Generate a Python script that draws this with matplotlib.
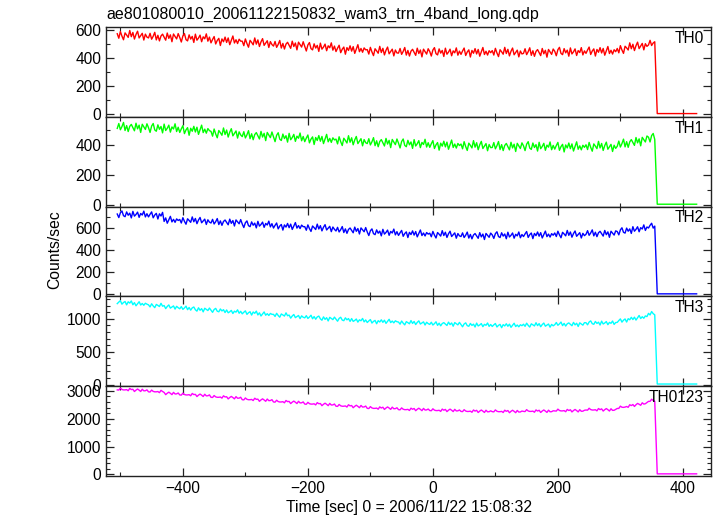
# Import necessary libraries
import numpy as np
import matplotlib
matplotlib.use("Agg")
import matplotlib.pyplot as plt
from matplotlib.ticker import MultipleLocator

plt.rcParams['font.family'] = ['Liberation Sans', 'DejaVu Sans']

# Light curve samples every 2.5 s from -505 s to 355 s
start_time = -505
step = 2.5

th0 = [572, 540, 588, 555, 529, 578, 563, 546, 595, 551, 581, 534, 567, 590, 542, 558, 575, 527, 569, 548,
       542, 575, 533, 554, 582, 528, 561, 521, 556, 569, 547, 526, 577, 539, 564, 515, 570, 552, 535, 573,
       545, 513, 556, 573, 530, 521, 564, 534, 553, 510, 569, 526, 541, 562, 515, 550, 536, 571, 519, 548,
       507, 531, 552, 499, 524, 539, 488, 535, 515, 548, 510, 542, 494, 526, 556, 506, 529, 502, 533, 519,
       519, 487, 535, 502, 476, 525, 510, 493, 542, 498, 528, 481, 514, 537, 489, 505, 522, 474, 516, 495,
       484, 517, 475, 496, 524, 470, 503, 463, 498, 511, 489, 468, 519, 481, 506, 457, 512, 494, 477, 515,
       481, 449, 492, 509, 466, 457, 500, 470, 489, 446, 505, 462, 477, 498, 451, 486, 472, 507, 455, 484,
       445, 469, 490, 437, 462, 477, 426, 473, 453, 486, 448, 480, 432, 464, 494, 444, 467, 440, 471, 457,
       459, 427, 475, 442, 416, 465, 450, 433, 482, 438, 468, 421, 454, 477, 429, 445, 462, 414, 456, 435,
       434, 467, 425, 446, 474, 420, 453, 413, 448, 461, 439, 418, 469, 431, 456, 407, 462, 444, 427, 465,
       445, 413, 456, 473, 430, 421, 464, 434, 453, 410, 469, 426, 441, 462, 415, 450, 436, 471, 419, 448,
       425, 449, 470, 417, 442, 457, 406, 453, 433, 466, 428, 460, 412, 444, 474, 424, 447, 420, 451, 437,
       452, 420, 468, 435, 409, 458, 443, 426, 475, 431, 461, 414, 447, 470, 422, 438, 455, 407, 449, 428,
       432, 465, 423, 444, 472, 418, 451, 411, 446, 459, 437, 416, 467, 429, 454, 405, 460, 442, 425, 463,
       447, 415, 458, 475, 432, 423, 466, 436, 455, 412, 471, 428, 443, 464, 417, 452, 438, 473, 421, 450,
       432, 456, 477, 424, 449, 464, 413, 460, 440, 473, 435, 467, 419, 451, 481, 431, 454, 427, 458, 444,
       467, 436, 487, 456, 432, 483, 471, 456, 507, 465, 497, 452, 487, 512, 466, 484, 503, 457, 501, 482,
       492, 525, 488, 506, 515]

th1 = [512, 545, 503, 524, 552, 498, 531, 491, 526, 539, 517, 496, 547, 509, 534, 485, 540, 522, 505, 543,
       517, 485, 528, 545, 502, 493, 536, 506, 525, 482, 541, 498, 513, 534, 487, 522, 508, 543, 491, 520,
       485, 509, 530, 477, 502, 517, 466, 513, 493, 526, 488, 520, 472, 504, 534, 484, 507, 480, 511, 497,
       492, 460, 508, 475, 449, 498, 483, 466, 515, 471, 501, 454, 487, 510, 462, 478, 495, 447, 489, 468,
       457, 490, 448, 469, 497, 443, 476, 436, 471, 484, 462, 441, 492, 454, 479, 430, 485, 467, 450, 488,
       455, 423, 466, 483, 440, 431, 474, 444, 463, 420, 479, 436, 451, 472, 425, 460, 446, 481, 429, 458,
       423, 447, 468, 415, 440, 455, 404, 451, 431, 464, 426, 458, 410, 442, 472, 422, 445, 418, 449, 435,
       440, 408, 456, 423, 397, 446, 431, 414, 463, 419, 449, 402, 435, 458, 410, 426, 443, 395, 437, 416,
       410, 443, 401, 422, 450, 396, 429, 389, 424, 437, 415, 394, 445, 407, 432, 383, 438, 420, 403, 441,
       413, 381, 424, 441, 398, 389, 432, 402, 421, 378, 437, 394, 409, 430, 383, 418, 404, 439, 387, 416,
       385, 409, 430, 377, 402, 417, 366, 413, 393, 426, 388, 420, 372, 404, 434, 384, 407, 380, 411, 397,
       407, 375, 423, 390, 364, 413, 398, 381, 430, 386, 416, 369, 402, 425, 377, 393, 410, 362, 404, 383,
       384, 417, 375, 396, 424, 370, 403, 363, 398, 411, 389, 368, 419, 381, 406, 357, 412, 394, 377, 415,
       395, 363, 406, 423, 380, 371, 414, 384, 403, 360, 419, 376, 391, 412, 365, 400, 386, 421, 369, 398,
       373, 397, 418, 365, 390, 405, 354, 401, 381, 414, 376, 408, 360, 392, 422, 372, 395, 368, 399, 385,
       402, 370, 418, 385, 359, 408, 393, 376, 425, 381, 411, 364, 397, 420, 372, 388, 405, 357, 399, 378,
       392, 427, 387, 410, 440, 388, 423, 385, 422, 437, 417, 398, 451, 415, 442, 395, 452, 436, 421, 461,
       453, 421, 464, 478, 438]

th2 = [723, 691, 734, 751, 708, 699, 742, 712, 731, 688, 747, 704, 719, 740, 693, 728, 714, 749, 697, 726,
       697, 721, 742, 689, 714, 729, 678, 725, 705, 738, 656, 688, 640, 672, 702, 652, 675, 648, 679, 665,
       674, 642, 690, 657, 631, 680, 665, 648, 697, 653, 683, 636, 669, 692, 644, 660, 677, 629, 671, 650,
       642, 675, 633, 654, 682, 628, 661, 621, 656, 669, 647, 626, 677, 639, 664, 615, 670, 652, 635, 673,
       633, 601, 644, 661, 618, 609, 652, 622, 641, 598, 657, 614, 629, 650, 603, 638, 624, 659, 607, 636,
       597, 621, 642, 589, 614, 629, 578, 625, 605, 638, 600, 632, 584, 616, 646, 596, 619, 592, 623, 609,
       609, 577, 625, 592, 566, 615, 600, 583, 632, 588, 618, 571, 604, 627, 579, 595, 612, 564, 606, 585,
       570, 603, 561, 582, 610, 556, 589, 549, 584, 597, 575, 554, 605, 567, 592, 543, 598, 580, 563, 601,
       561, 529, 572, 589, 546, 537, 580, 550, 569, 526, 585, 542, 557, 578, 531, 566, 552, 587, 535, 564,
       530, 554, 575, 522, 547, 562, 511, 558, 538, 571, 533, 565, 517, 549, 579, 529, 552, 525, 556, 542,
       550, 518, 566, 533, 507, 556, 541, 524, 573, 529, 559, 512, 545, 568, 520, 536, 553, 505, 547, 526,
       520, 553, 511, 532, 560, 506, 539, 499, 534, 547, 525, 504, 555, 517, 542, 493, 548, 530, 513, 551,
       535, 503, 546, 563, 520, 511, 554, 524, 543, 500, 559, 516, 531, 552, 505, 540, 526, 561, 509, 538,
       520, 544, 565, 512, 537, 552, 501, 548, 528, 561, 523, 555, 507, 539, 569, 519, 542, 515, 546, 532,
       552, 520, 568, 535, 509, 558, 543, 526, 575, 531, 561, 514, 547, 570, 522, 538, 555, 507, 549, 528,
       540, 573, 531, 552, 580, 526, 559, 519, 554, 567, 545, 524, 575, 537, 562, 513, 568, 550, 533, 571,
       565, 535, 580, 599, 558, 551, 596, 568, 589, 548, 609, 568, 585, 608, 563, 600, 588, 625, 575, 606,
       597, 621, 640, 596, 614]

th3 = [1230, 1254, 1275, 1222, 1247, 1262, 1211, 1258, 1238, 1271, 1213, 1245, 1197, 1229, 1259, 1209, 1232, 1205, 1236, 1222,
       1212, 1180, 1228, 1195, 1169, 1218, 1203, 1186, 1235, 1191, 1201, 1154, 1187, 1210, 1162, 1178, 1195, 1147, 1189, 1168,
       1152, 1185, 1143, 1164, 1192, 1138, 1171, 1131, 1166, 1179, 1137, 1116, 1167, 1129, 1154, 1105, 1160, 1142, 1125, 1163,
       1130, 1098, 1141, 1158, 1115, 1106, 1149, 1119, 1138, 1095, 1134, 1091, 1106, 1127, 1080, 1115, 1101, 1136, 1084, 1113,
       1075, 1099, 1120, 1067, 1092, 1107, 1056, 1103, 1083, 1116, 1058, 1090, 1042, 1074, 1104, 1054, 1077, 1050, 1081, 1067,
       1067, 1035, 1083, 1050, 1024, 1073, 1058, 1041, 1090, 1046, 1056, 1009, 1042, 1065, 1017, 1033, 1050, 1002, 1044, 1023,
       1014, 1047, 1005, 1026, 1054, 1000, 1033, 993, 1028, 1041, 999, 978, 1029, 991, 1016, 967, 1022, 1004, 987, 1025,
       995, 963, 1006, 1023, 980, 971, 1014, 984, 1003, 960, 1003, 960, 975, 996, 949, 984, 970, 1005, 953, 982,
       943, 967, 988, 935, 960, 975, 924, 971, 951, 984, 946, 978, 930, 962, 992, 942, 965, 938, 969, 955,
       950, 918, 966, 933, 907, 956, 941, 924, 973, 929, 959, 912, 945, 968, 920, 936, 953, 905, 947, 926,
       914, 947, 905, 926, 954, 900, 933, 893, 928, 941, 919, 898, 949, 911, 936, 887, 942, 924, 907, 945,
       910, 878, 921, 938, 895, 886, 929, 899, 918, 875, 934, 891, 906, 927, 880, 915, 901, 936, 884, 913,
       883, 907, 928, 875, 900, 915, 864, 911, 891, 924, 886, 918, 870, 902, 932, 882, 905, 878, 909, 895,
       917, 885, 933, 900, 874, 923, 908, 891, 940, 896, 926, 879, 912, 935, 887, 903, 920, 872, 914, 893,
       910, 943, 901, 922, 950, 896, 929, 889, 924, 937, 915, 894, 945, 907, 932, 883, 938, 920, 903, 941,
       940, 908, 951, 968, 925, 916, 959, 929, 948, 905, 964, 921, 936, 957, 910, 945, 931, 966, 914, 943,
       945, 973, 998, 949, 978, 997, 950, 1001, 985, 1022, 988, 1024, 980, 1016, 1050, 1004, 1031, 1008, 1043, 1033,
       1082, 1058, 1110, 1078, 1060]

# After the drop: a half-way bin, then the near-zero tail up to 422 s
tail_time = [357, 359, 422]
th0_tail = [250, 3, 3]
th1_tail = [220, 3, 3]
th2_tail = [300, 3, 3]
th3_tail = [550, 8, 8]

band_names = ['TH0', 'TH1', 'TH2', 'TH3', 'TH0123']
band_colors = ['#ff0000', '#00ff00', '#0000ff', '#00ffff', '#ff00ff']
y_limits = [(-20, 620), (-13, 590), (-20, 790), (-25, 1340), (-60, 3170)]
y_major = [200, 200, 200, 500, 1000]
y_minor = [100, 100, 100, 100, 200]


def plot_light_curves():
    '''Plots the four WAM energy bands and their sum as stacked panels.'''
    n = len(th0)
    time = np.concatenate([start_time + step * np.arange(n), tail_time])

    bands = [np.concatenate([th0, th0_tail]),
             np.concatenate([th1, th1_tail]),
             np.concatenate([th2, th2_tail]),
             np.concatenate([th3, th3_tail])]
    bands.append(bands[0] + bands[1] + bands[2] + bands[3])  # TH0123 = sum

    fig = plt.figure(figsize=(7.17, 5.16), dpi=100)

    left, width = 106 / 717, 605 / 717
    top, bottom = 1 - 27 / 516, 1 - 476 / 516
    h = (top - bottom) / 5

    axes = []
    for i in range(5):
        ax = fig.add_axes([left, top - (i + 1) * h, width, h])
        ax.plot(time, bands[i], color=band_colors[i], lw=1.0)
        ax.set_xlim(-523, 445)
        ax.set_ylim(*y_limits[i])
        ax.xaxis.set_major_locator(MultipleLocator(200))
        ax.xaxis.set_minor_locator(MultipleLocator(100))
        ax.yaxis.set_major_locator(MultipleLocator(y_major[i]))
        ax.yaxis.set_minor_locator(MultipleLocator(y_minor[i]))
        ax.tick_params(which='both', direction='in', top=True, right=True,
                       labelsize=11.2, colors='#222222', labelcolor='black')
        ax.tick_params(which='major', length=6, width=0.9)
        ax.tick_params(which='minor', length=3, width=0.8)
        for s in ax.spines.values():
            s.set_linewidth(1.0)
            s.set_color('#222222')
        if i < 4:
            ax.tick_params(labelbottom=False)
        ax.text(0.988, 0.875, band_names[i], transform=ax.transAxes,
                ha='right', va='center', fontsize=11.2)
        axes.append(ax)

    # Labels and title
    axes[-1].set_xlabel('Time [sec] 0 = 2006/11/22 15:08:32', fontsize=11.3,
                        labelpad=3)
    fig.text(55 / 717, 1 - 250 / 516, 'Counts/sec', rotation=90,
             ha='center', va='center', fontsize=11.3)
    fig.text(106 / 717, 1 - 14 / 516,
             'ae801080010_20061122150832_wam3_trn_4band_long.qdp',
             ha='left', va='center', fontsize=11.5)

    fig.savefig('out.png', dpi=100)


if __name__ == "__main__":
    plot_light_curves()
